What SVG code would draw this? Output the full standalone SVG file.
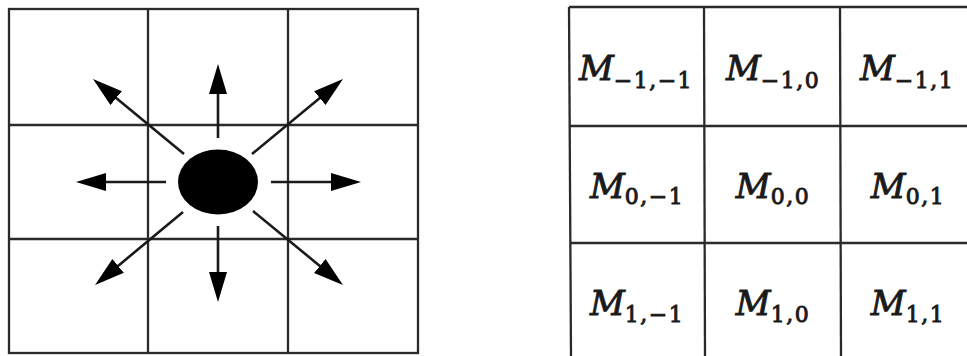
<svg xmlns="http://www.w3.org/2000/svg" width="967" height="356" viewBox="0 0 967 356">
<defs>
<style>
.grid{stroke:#2a2a2a;stroke-width:2.3;fill:none}
.arr{stroke:#1a1a1a;stroke-width:2.6;fill:none;marker-end:url(#ah)}
.m{font-family:"DejaVu Serif","Liberation Serif",serif;font-style:italic;font-size:34px;fill:#1a1a1a;stroke:#1a1a1a;stroke-width:0.9;text-anchor:middle}
.s{font-style:normal;font-size:22px;letter-spacing:1.5px}
</style>
<marker id="ah" markerUnits="userSpaceOnUse" markerWidth="32" markerHeight="20" refX="22" refY="9" orient="auto" viewBox="0 0 32 20">
<path d="M0,0 L30,9 L0,18 z" fill="#000"/>
</marker>
</defs>
<rect width="967" height="356" fill="#fff"/>
<g id="left-grid">
<rect class="grid" x="9" y="9" width="409" height="344"/>
<line class="grid" x1="148" y1="9" x2="148" y2="353"/>
<line class="grid" x1="288" y1="9" x2="288" y2="353"/>
<line class="grid" x1="9" y1="125" x2="418" y2="125"/>
<line class="grid" x1="9" y1="239" x2="418" y2="239"/>
</g>
<g id="center-dot">
<ellipse cx="218" cy="182" rx="40" ry="32.5" fill="#000"/>
</g>
<g id="connectors">
<line class="arr" x1="218" y1="138" x2="218" y2="72"/>
<line class="arr" x1="218" y1="226" x2="218" y2="294"/>
<line class="arr" x1="166" y1="182" x2="84" y2="182"/>
<line class="arr" x1="271" y1="182" x2="353" y2="182"/>
<line class="arr" x1="184" y1="154" x2="99.2" y2="84.1"/>
<line class="arr" x1="252" y1="154" x2="336.8" y2="84.1"/>
<line class="arr" x1="183" y1="212" x2="101.2" y2="279.9"/>
<line class="arr" x1="253" y1="211" x2="336.8" y2="279.9"/>
</g>
<g id="right-grid">
<line class="grid" x1="569" y1="7" x2="967" y2="7"/>
<line class="grid" x1="569" y1="7" x2="571" y2="356"/>
<line class="grid" x1="704" y1="7" x2="705" y2="356"/>
<line class="grid" x1="840" y1="7" x2="841" y2="356"/>
<line class="grid" x1="569" y1="126" x2="967" y2="126"/>
<line class="grid" x1="570" y1="243" x2="967" y2="243"/>
</g>
<g id="cells">
<text class="m" x="636" y="80">M<tspan class="s" dy="8">−1,−1</tspan></text>
<text class="m" x="773" y="80">M<tspan class="s" dy="8">−1,0</tspan></text>
<text class="m" x="907" y="80">M<tspan class="s" dy="8">−1,1</tspan></text>
<text class="m" x="637" y="198">M<tspan class="s" dy="6">0,−1</tspan></text>
<text class="m" x="773" y="198">M<tspan class="s" dy="6">0,0</tspan></text>
<text class="m" x="908" y="198">M<tspan class="s" dy="6">0,1</tspan></text>
<text class="m" x="637" y="315">M<tspan class="s" dy="7">1,−1</tspan></text>
<text class="m" x="773" y="315">M<tspan class="s" dy="7">1,0</tspan></text>
<text class="m" x="908" y="315">M<tspan class="s" dy="7">1,1</tspan></text>
</g>
</svg>
